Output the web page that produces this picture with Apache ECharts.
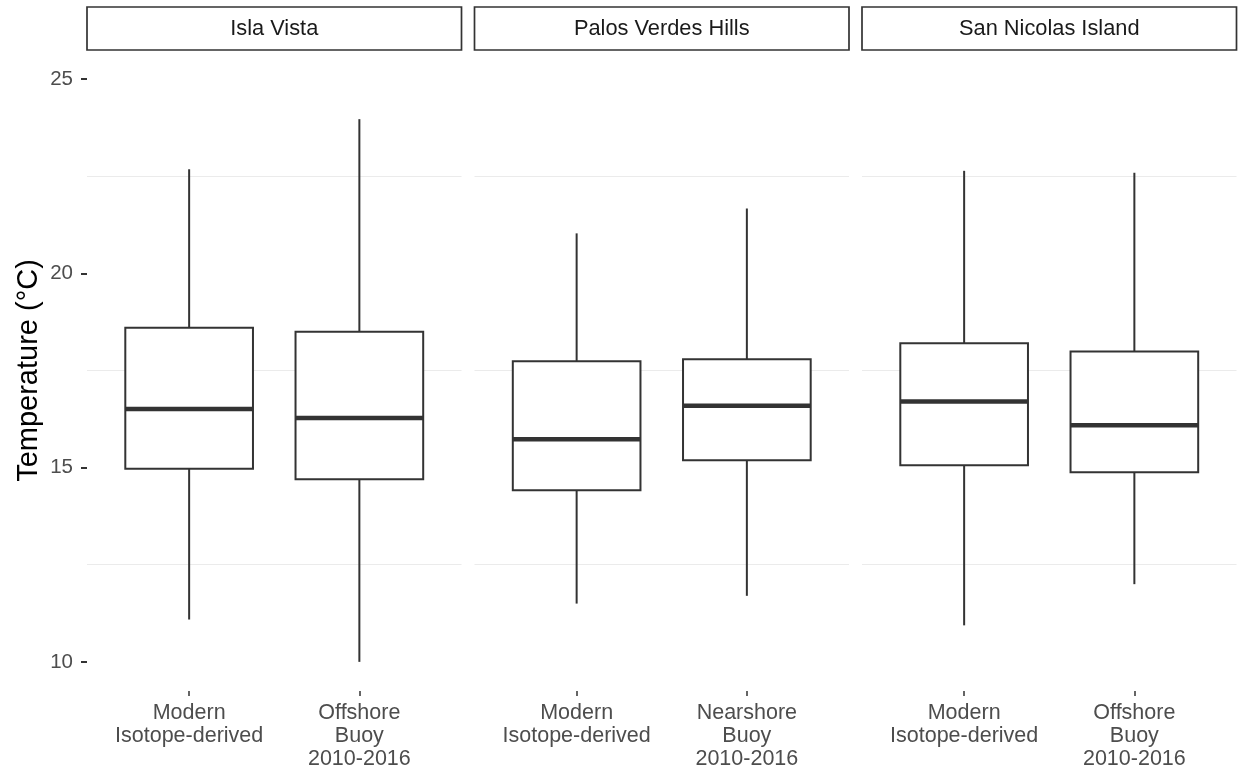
<!DOCTYPE html>
<html>
<head>
<meta charset="utf-8">
<title>Temperature by site</title>
<script src="https://cdn.jsdelivr.net/npm/echarts@6/dist/echarts.min.js"></script>
<style>
  html, body { margin: 0; padding: 0; background: #ffffff; }
  #chart { width: 1238px; height: 772px; }
</style>
</head>
<body>
<div id="chart"></div>
<script>
// Facet (site) names
const sites = ['Isla Vista', 'Palos Verdes Hills', 'San Nicolas Island'];

// Category labels within each facet
const groupLabels = [
  ['Modern\nIsotope-derived', 'Offshore\nBuoy\n2010-2016'],
  ['Modern\nIsotope-derived', 'Nearshore\nBuoy\n2010-2016'],
  ['Modern\nIsotope-derived', 'Offshore\nBuoy\n2010-2016']
];

// Box statistics (°C), one pair per site
const whiskerLow    = [[11.09, 10.00], [11.50, 11.70], [10.94, 12.00]];
const lowerQuartile = [[14.97, 14.70], [14.42, 15.19], [15.06, 14.88]];
const medians       = [[16.51, 16.28], [15.73, 16.59], [16.70, 16.09]];
const upperQuartile = [[18.60, 18.50], [17.74, 17.79], [18.20, 17.99]];
const whiskerHigh   = [[22.68, 23.97], [21.03, 21.67], [22.64, 22.59]];

// Axis ticks and light reference lines
const yTicks = [10, 15, 20, 25];
const yGridLines = [12.5, 17.5, 22.5];

const FONT = '"Liberation Sans", Arial, Helvetica, sans-serif';
const INK = '#333333';

const panelLeft = [87, 474.5, 862];
const panelWidth = 374.5;
const panelTop = 50;
const panelHeight = 641;

const chart = echarts.init(document.getElementById('chart'), null, { renderer: 'canvas' });

const grids = [], xAxes = [], yAxes = [], series = [], graphics = [];

sites.forEach((site, i) => {
  grids.push({ left: panelLeft[i], top: panelTop, width: panelWidth, height: panelHeight, containLabel: false });

  xAxes.push({
    type: 'value', gridIndex: i, min: 0.4, max: 2.6,
    axisLine: { show: false },
    splitLine: { show: false },
    axisTick: { show: true, customValues: [1, 2], length: 5, lineStyle: { color: INK, width: 1.5 } },
    axisLabel: {
      show: true, customValues: [1, 2],
      formatter: v => groupLabels[i][Math.round(v) - 1],
      fontFamily: FONT, fontSize: 21.5, color: '#4d4d4d', lineHeight: 23.3, margin: 10
    }
  });

  yAxes.push({
    type: 'value', gridIndex: i, min: 9.25, max: 25.75,
    name: i === 0 ? 'Temperature (°C)' : '',
    nameLocation: 'middle', nameRotate: 90, nameGap: 44,
    nameTextStyle: { fontFamily: FONT, fontSize: 29, color: '#000000' },
    axisLine: { show: false },
    splitLine: { show: false },
    axisTick: { show: i === 0, customValues: yTicks, length: 6, lineStyle: { color: INK, width: 2 } },
    axisLabel: {
      show: i === 0, customValues: yTicks,
      fontFamily: FONT, fontSize: 20.5, color: '#4d4d4d', margin: 14
    }
  });

  const data = [0, 1].map(k => [
    k + 1,
    whiskerLow[i][k], lowerQuartile[i][k], medians[i][k], upperQuartile[i][k], whiskerHigh[i][k]
  ]);

  series.push({
    type: 'custom',
    xAxisIndex: i, yAxisIndex: i,
    z: 3,
    silent: true,
    encode: { x: 0, y: [1, 2, 3, 4, 5] },
    data: data,
    renderItem: (params, api) => {
      const x = api.value(0);
      const lo = api.coord([x, api.value(1)]);
      const q1 = api.coord([x, api.value(2)]);
      const md = api.coord([x, api.value(3)]);
      const q3 = api.coord([x, api.value(4)]);
      const hi = api.coord([x, api.value(5)]);
      const half = api.size([0.75, 0])[0] / 2;
      const cx = lo[0];
      return {
        type: 'group',
        children: [
          { type: 'line', shape: { x1: cx, y1: hi[1], x2: cx, y2: q3[1] }, style: { stroke: INK, lineWidth: 2 } },
          { type: 'line', shape: { x1: cx, y1: q1[1], x2: cx, y2: lo[1] }, style: { stroke: INK, lineWidth: 2 } },
          { type: 'rect', shape: { x: cx - half, y: q3[1], width: 2 * half, height: q1[1] - q3[1] },
            style: { fill: '#ffffff', stroke: INK, lineWidth: 2 } },
          { type: 'line', shape: { x1: cx - half, y1: md[1], x2: cx + half, y2: md[1] },
            style: { stroke: INK, lineWidth: 4.5 } }
        ]
      };
    },
    markLine: {
      silent: true,
      z: 1,
      symbol: ['none', 'none'],
      label: { show: false },
      lineStyle: { color: '#ebebeb', width: 1.2, type: 'solid' },
      data: yGridLines.map(v => ({ yAxis: v }))
    }
  });

  // facet strip
  graphics.push({
    type: 'rect',
    shape: { x: panelLeft[i], y: 7, width: panelWidth, height: 43 },
    style: { fill: '#ffffff', stroke: INK, lineWidth: 1.7 }
  });
  graphics.push({
    type: 'text',
    x: panelLeft[i] + panelWidth / 2, y: 28.5,
    style: {
      text: site, fontFamily: FONT, fontSize: 21.8, fill: '#1a1a1a',
      align: 'center', verticalAlign: 'middle'
    }
  });
});

chart.setOption({
  backgroundColor: '#ffffff',
  animation: false,
  grid: grids,
  xAxis: xAxes,
  yAxis: yAxes,
  series: series,
  graphic: graphics
});
</script>
</body>
</html>
